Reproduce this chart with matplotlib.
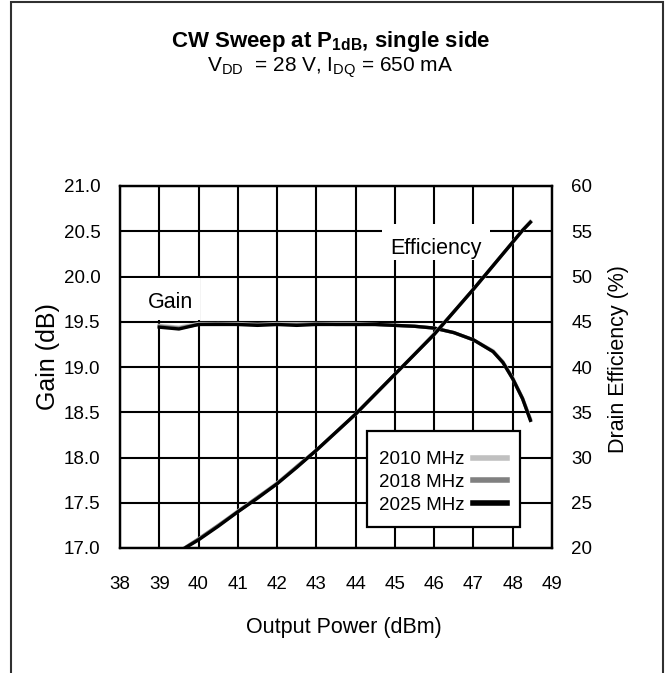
import numpy as np
import matplotlib
matplotlib.use('Agg')
import matplotlib.pyplot as plt
from matplotlib.patches import Rectangle

plt.rcParams['font.family'] = ['Liberation Sans', 'DejaVu Sans']
plt.rcParams['mathtext.fontset'] = 'custom'
plt.rcParams['mathtext.rm'] = 'Liberation Sans'
plt.rcParams['mathtext.bf'] = 'Liberation Sans:bold'

# Data ----------------------------------------------------------------------------------------------------------------
pout = [39.0, 39.5, 40.0, 40.5, 41.0, 41.5, 42.0, 42.5, 43.0, 43.5, 44.0, 44.5,
        45.0, 45.5, 46.0, 46.5, 47.0, 47.5, 47.75, 48.0, 48.25, 48.45]

gain_2010 = [19.46, 19.44, 19.48, 19.48, 19.48, 19.47, 19.48, 19.48, 19.48, 19.48, 19.48, 19.47,
             19.46, 19.45, 19.43, 19.38, 19.30, 19.18, 19.06, 18.88, 18.66, 18.43]
gain_2018 = [19.45, 19.43, 19.47, 19.48, 19.47, 19.47, 19.47, 19.47, 19.48, 19.47, 19.47, 19.47,
             19.46, 19.45, 19.43, 19.38, 19.30, 19.17, 19.05, 18.87, 18.65, 18.42]
gain_2025 = [19.44, 19.42, 19.47, 19.47, 19.47, 19.46, 19.47, 19.46, 19.47, 19.47, 19.47, 19.47,
             19.46, 19.45, 19.43, 19.38, 19.30, 19.17, 19.05, 18.87, 18.65, 18.41]

eff_2010 = [18.3, 19.6, 21.0, 22.5, 24.1, 25.6, 27.2, 29.0, 30.8, 32.8, 34.8, 37.0,
            39.2, 41.4, 43.7, 46.1, 48.6, 51.2, 52.5, 53.8, 55.1, 56.1]
eff_2018 = [18.3, 19.6, 21.0, 22.5, 24.0, 25.6, 27.1, 29.0, 30.8, 32.8, 34.8, 37.0,
            39.2, 41.4, 43.6, 46.1, 48.6, 51.2, 52.5, 53.8, 55.1, 56.0]
eff_2025 = [18.3, 19.6, 20.9, 22.4, 24.0, 25.5, 27.1, 28.9, 30.8, 32.8, 34.8, 37.0,
            39.2, 41.4, 43.6, 46.1, 48.6, 51.2, 52.5, 53.8, 55.1, 56.0]

freq_labels = ['2010 MHz', '2018 MHz', '2025 MHz']
line_colors = ['#c0c0c0', '#808080', '#000000']

x_ticks = list(range(38, 50))
gain_ticks = [17.0, 17.5, 18.0, 18.5, 19.0, 19.5, 20.0, 20.5, 21.0]
eff_ticks = [20, 25, 30, 35, 40, 45, 50, 55, 60]
# ---------------------------------------------------------------------------------------------------------------------

fig = plt.figure(figsize=(6.66, 6.73), dpi=100)
fig.patch.set_facecolor('white')

# outer frame (open at the bottom)
fig.patches.append(Rectangle((11 / 666, -0.1), 652 / 666, 1.1 - 2 / 673, transform=fig.transFigure,
                             fill=False, edgecolor='#303030', linewidth=1.5))

ax1 = fig.add_axes([120 / 666, 1 - 548 / 673, 432 / 666, 362 / 673])
ax2 = ax1.twinx()

# grid
ax1.set_xlim(38, 49)
ax1.set_ylim(17, 21)
ax2.set_ylim(20, 60)
ax1.set_xticks(x_ticks)
ax1.set_yticks(gain_ticks)
ax1.set_yticklabels(['%.1f' % v for v in gain_ticks])
ax2.set_yticks(eff_ticks)
ax1.grid(True, color='black', linewidth=1.5)
for ax in (ax1, ax2):
    for s in ax.spines.values():
        s.set_linewidth(1.6)
        s.set_color('black')
ax1.tick_params(axis='both', length=0, labelsize=13.5)
ax1.tick_params(axis='y', pad=14)
ax1.tick_params(axis='x', pad=20)
ax2.tick_params(axis='y', length=0, labelsize=13.5, pad=14)

# white boxes behind the curve names
ax1.add_patch(Rectangle((38.0, 19.52), 2.04, 0.46, facecolor='white', edgecolor='none', zorder=2))
ax1.add_patch(Rectangle((44.67, 20.18), 2.75, 0.40, facecolor='white', edgecolor='none', zorder=2))
ax1.text(39.28, 19.71, 'Gain', fontsize=15.5, ha='center', va='center', zorder=3)
ax1.text(46.05, 20.31, 'Efficiency', fontsize=15.5, ha='center', va='center', zorder=3)

# curves
handles = []
for g, c, lab in zip([gain_2010, gain_2018, gain_2025], line_colors, freq_labels):
    h, = ax1.plot(pout, g, color=c, linewidth=2.4, label=lab, zorder=4)
    handles.append(h)
for e, c in zip([eff_2010, eff_2018, eff_2025], line_colors):
    ax2.plot(pout, e, color=c, linewidth=2.4)

# legend: own frame, entries with the line sample after the text
ax2.add_patch(Rectangle((0.572, 0.058), 0.354, 0.265, transform=ax2.transAxes, facecolor='white',
                        edgecolor='black', linewidth=1.6, zorder=5))
leg = ax2.legend(handles, freq_labels, loc='upper left', bbox_to_anchor=(0.5995, 0.268),
                 markerfirst=False, fontsize=13.5, frameon=False, borderpad=0, borderaxespad=0,
                 handlelength=1.8, handletextpad=0.45, labelspacing=0.3)
leg.set_zorder(6)
for ln in leg.get_lines():
    ln.set_linewidth(4)

# labels
ax1.set_xlabel('Output Power (dBm)', fontsize=15.5)
ax1.xaxis.set_label_coords(0.519, -0.19)
ax1.set_ylabel('Gain (dB)', fontsize=18)
ax1.yaxis.set_label_coords(-0.139, 0.528)
ax2.set_ylabel('Drain Efficiency (%)', fontsize=15.5)
ax2.yaxis.set_label_coords(1.13, 0.522)

fig.text(0.496, 1 - 41 / 673, r'CW Sweep at P$_{\mathbf{1dB}}$, single side', fontsize=16,
         fontweight='bold', ha='center', va='center')
fig.text(0.496, 1 - 68 / 673, r'V$_{\mathrm{DD}}$  = 28 V, I$_{\mathrm{DQ}}$ = 650 mA', fontsize=15,
         ha='center', va='center')

fig.savefig('out.png', dpi=100)
